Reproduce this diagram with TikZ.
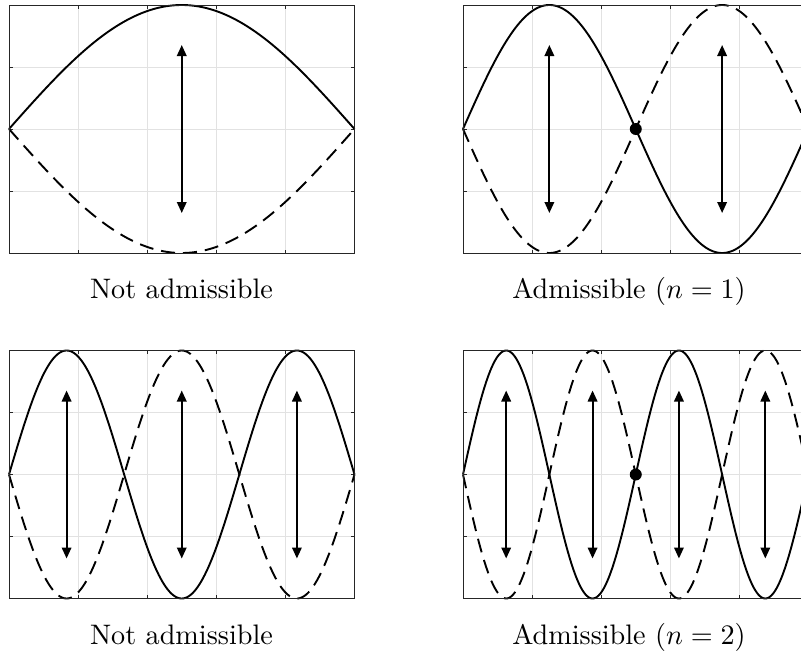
\documentclass[tikz,border=0pt]{standalone}
\usepackage{fontspec}
\usetikzlibrary{arrows.meta}
\definecolor{gridgray}{RGB}{226,226,226}
\definecolor{boxgray}{RGB}{38,38,38}
\tikzset{
  gridline/.style={draw=gridgray, line width=0.9pt},
  boxline/.style={draw=boxgray, line width=0.9pt},
  tickline/.style={draw=boxgray, line width=0.9pt},
  wave/.style={draw=black, line width=1.9pt, line join=round},
  dashwave/.style={wave, dash pattern=on 14pt off 8pt},
  amparrow/.style={draw=black, line width=1.9pt,
    {Triangle[length=11pt,width=9.5pt]}-{Triangle[length=11pt,width=9.5pt]}},
  crossdot/.style={circle, fill=black, inner sep=0pt, minimum size=12pt},
  caption/.style={font=\fontsize{10}{12}\selectfont, anchor=base, inner sep=0pt,
    scale=2.82, transform shape}
}
\def\W{345.5}
\def\H{248}
% #1 x0, #2 y0, #3 number of half periods, #4 panel name
\newcommand{\wavepanel}[4]{%
  \begin{scope}[shift={(#1,#2)}]
    \foreach \i in {1,...,4} {\draw[gridline] ({\i*\W/5},0) -- ({\i*\W/5},\H);}
    \foreach \j in {1,2,3} {\draw[gridline] (0,{\j*\H/4}) -- (\W,{\j*\H/4});}
    \foreach \i in {1,...,4} {
      \draw[tickline] ({\i*\W/5},0) -- ++(0,3.5);
      \draw[tickline] ({\i*\W/5},\H) -- ++(0,-3.5);}
    \foreach \j in {1,2,3} {
      \draw[tickline] (0,{\j*\H/4}) -- ++(3.5,0);
      \draw[tickline] (\W,{\j*\H/4}) -- ++(-3.5,0);}
    \draw[dashwave] plot[domain=0:\W, samples=241] (\x,{\H/2 + \H/2*sin((180*#3/\W)*\x)});
    \draw[wave] plot[domain=0:\W, samples=241] (\x,{\H/2 - \H/2*sin((180*#3/\W)*\x)});
    \foreach \k in {1,...,#3} {
      \coordinate (#4-top\k) at ({(2*\k-1)*\W/(2*#3)},{\H/2-84});
      \coordinate (#4-bot\k) at ({(2*\k-1)*\W/(2*#3)},{\H/2+84});
      \draw[amparrow] (#4-top\k) -- (#4-bot\k);}
    \draw[boxline] (0,0) rectangle (\W,\H);
  \end{scope}}
\begin{document}
\begin{tikzpicture}[x=1pt,y=-1pt]
  \clip (0,0) rectangle (801,653);
  \fill[white] (0,0) rectangle (801,653);
  \wavepanel{9}{5}{1}{tl}
  \wavepanel{463}{5}{2}{tr}
  \wavepanel{9}{350.5}{3}{bl}
  \wavepanel{463}{350.5}{4}{br}
  \node[crossdot] (trdot) at ({463+\W/2},{5+\H/2}) {};
  \node[crossdot] (brdot) at ({463+\W/2},{350.5+\H/2}) {};
  \node[caption] (captl) at (181.5,298) {Not admissible};
  \node[caption] (captr) at (629,298) {Admissible ($n=1$)};
  \node[caption] (capbl) at (181.5,644) {Not admissible};
  \node[caption] (capbr) at (629,644) {Admissible ($n=2$)};
\end{tikzpicture}
\end{document}
